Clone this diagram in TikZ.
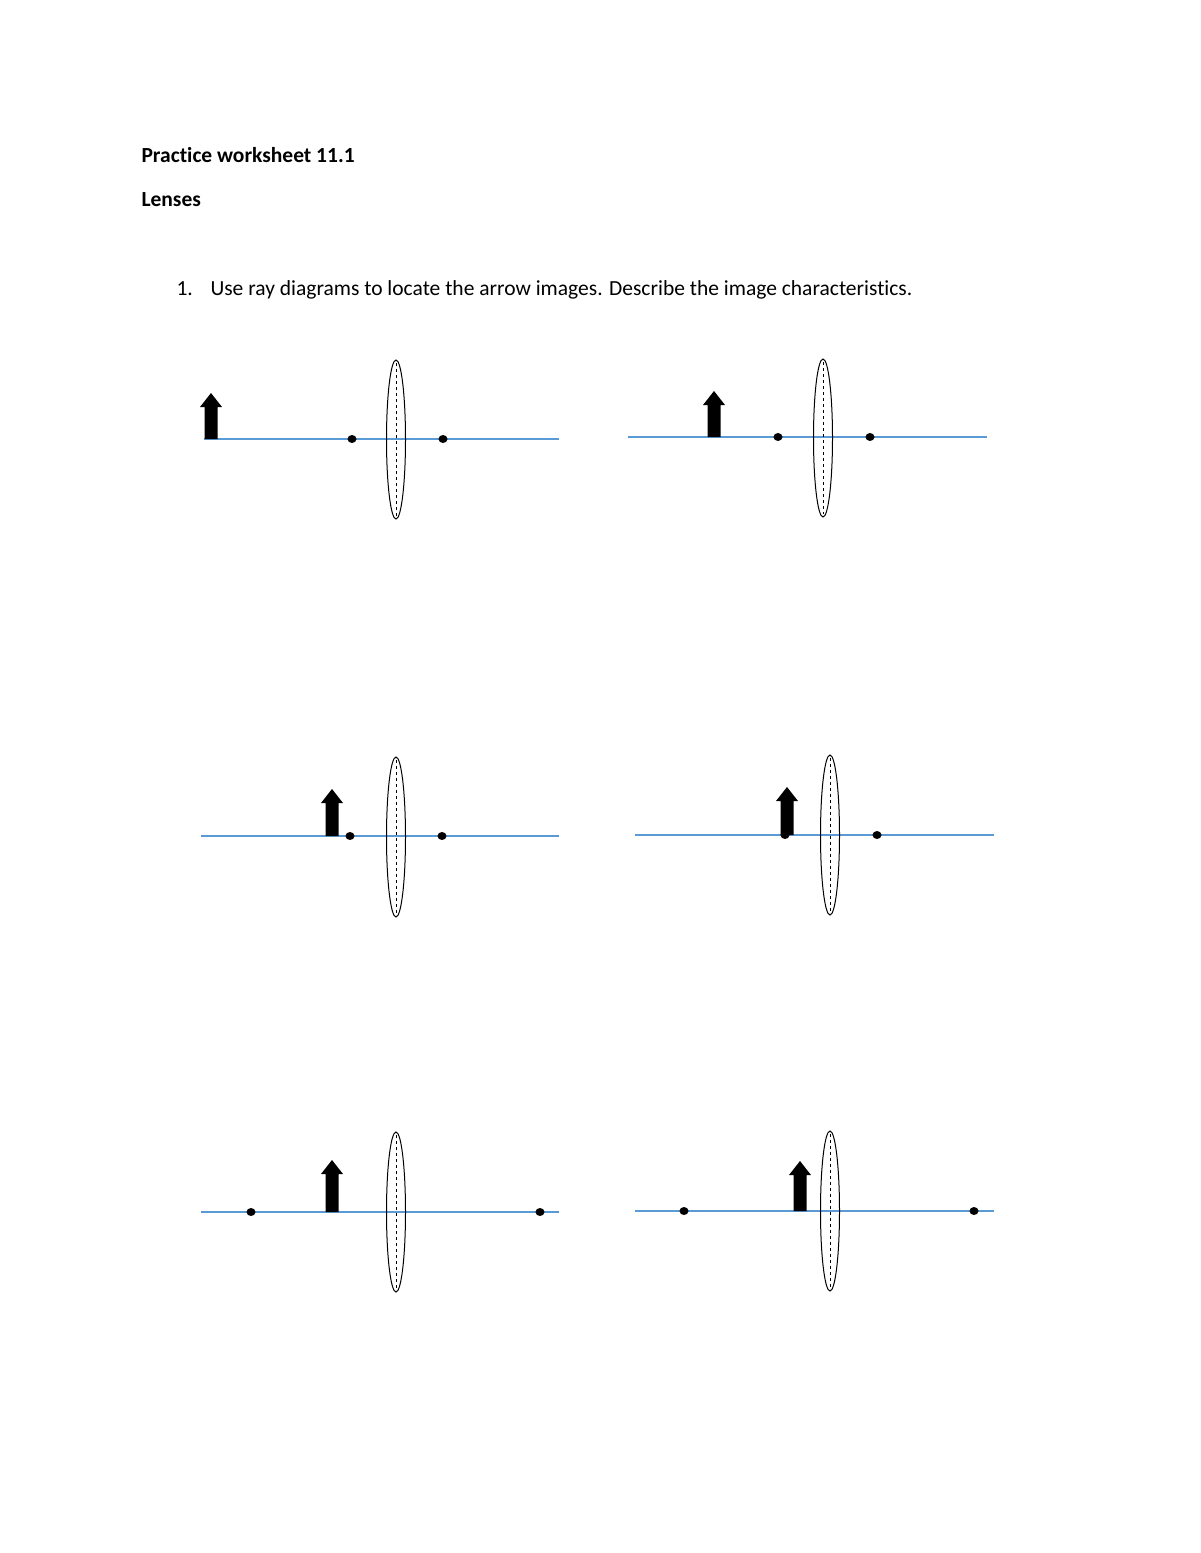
\documentclass[tikz,border=0pt]{standalone}
\usepackage{fontspec}
\setmainfont{Carlito}[Ligatures=NoCommon]
\definecolor{axisblue}{RGB}{91,155,213}
\begin{document}
\begin{tikzpicture}[x=1pt,y=-1pt,
  axis/.style={draw=axisblue, line width=1.2pt},
  lensout/.style={draw=black, line width=1pt},
  lensin/.style={draw=black, dashed, line width=0.8pt},
  txt/.style={anchor=base west, font=\fontsize{21.5}{25}\selectfont}]
\useasboundingbox (0,0) rectangle (1200,1553);
\node[txt, font=\bfseries\fontsize{21.5}{25}\selectfont] (t1) at (138,162) {Practice worksheet 11.1};
\node[txt, font=\bfseries\fontsize{21.5}{25}\selectfont] (t2) at (138,206) {Lenses};
\node[txt] (t3) at (173,295) {1.};
\node[txt] (t4) at (207,295) {Use ray diagrams to locate the arrow images. Describe the image characteristics.};
\newcommand{\lensdiag}[9]{%
  \draw[axis] (#1,#3) -- (#2,#3);
  \fill[black] (#4-6.5,#3) -- (#4-6.5,#5+14) -- (#4-11,#5+14) -- (#4,#5) -- (#4+11,#5+14) -- (#4+6.5,#5+14) -- (#4+6.5,#3) -- cycle;
  \draw[lensout] (#6,{(#7+#8)/2}) ellipse [x radius=9.5, y radius={(#8-#7)/2}];
  \draw[lensin] (#6,#7+3) -- (#6,#8-3);
  \fill (#9,#3) ellipse [x radius=4.5, y radius=4];
}
\lensdiag{204}{559}{439}{211}{393}{396}{360}{519}{352}
\fill (443,439) ellipse [x radius=4.5, y radius=4];
\lensdiag{628}{987}{437}{714}{391}{823}{359}{517}{778}
\fill (870,437) ellipse [x radius=4.5, y radius=4];
\lensdiag{201}{559}{836}{332}{789}{396}{757}{917}{350}
\fill (442,836) ellipse [x radius=4.5, y radius=4];
\lensdiag{635}{994}{835}{787}{787}{830}{755}{915}{785}
\fill (877,835) ellipse [x radius=4.5, y radius=4];
\lensdiag{201}{559}{1212}{332}{1160}{396}{1132}{1292}{251}
\fill (540,1212) ellipse [x radius=4.5, y radius=4];
\lensdiag{635}{994}{1211}{800}{1161}{830}{1131}{1291}{684}
\fill (974,1211) ellipse [x radius=4.5, y radius=4];
\end{tikzpicture}
\end{document}
